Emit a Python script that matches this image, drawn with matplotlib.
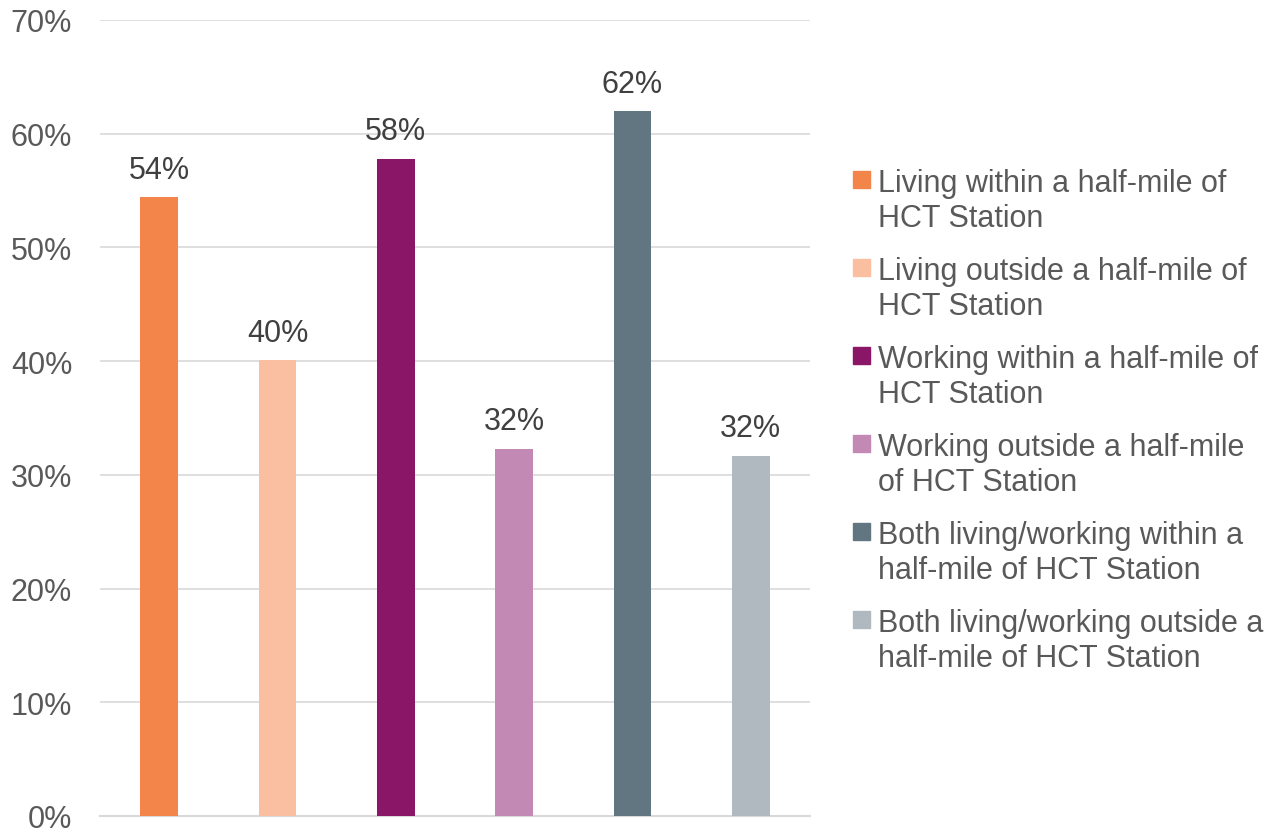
import matplotlib.pyplot as plt
from matplotlib.patches import Rectangle

# data
categories = ['Living within a half-mile of\nHCT Station',
              'Living outside a half-mile of\nHCT Station',
              'Working within a half-mile of\nHCT Station',
              'Working outside a half-mile\nof HCT Station',
              'Both living/working within a\nhalf-mile of HCT Station',
              'Both living/working outside a\nhalf-mile of HCT Station']
values = [54.4, 40.1, 57.8, 32.3, 62.0, 31.7]
colors = ['#F4854A', '#F9BFA0', '#8A1667', '#C189B4', '#627682', '#B1B9C0']
yticks = [0, 10, 20, 30, 40, 50, 60, 70]

plt.rcParams['font.family'] = ['Liberation Sans', 'DejaVu Sans']

fig = plt.figure(figsize=(12.74, 8.29), dpi=100)
ax = fig.add_axes([100/1274, 12/829, 710/1274, 796/829])

x = list(range(len(values)))
ax.bar(x, values, width=0.32, color=colors, zorder=3)

for xi, v in zip(x, values):
    ax.annotate(f'{v:.0f}%', (xi, v), xytext=(0, 14), textcoords='offset points',
                ha='center', va='baseline', fontsize=22, color='#404040')

ax.set_xlim(-0.5, len(values) - 0.5)
ax.set_ylim(0, 70)
ax.set_yticks(yticks)
ax.set_yticklabels([f'{t}%' for t in yticks])
ax.set_xticks([])
ax.tick_params(axis='y', length=0, pad=20, labelsize=22, labelcolor='#595959')
ax.grid(axis='y', color='#D9D9D9', lw=1.2, zorder=0)
for s in ['top', 'right', 'left']:
    ax.spines[s].set_visible(False)
ax.spines['bottom'].set_color('#D9D9D9')
ax.spines['bottom'].set_linewidth(1.5)

# legend drawn by hand so the swatch sits on the first line
for i, (lab, c) in enumerate(zip(categories, colors)):
    top = 172 + 88 * i
    fig.add_artist(Rectangle((853/1274, 1 - (top + 17)/829), 17/1274, 17/829,
                             transform=fig.transFigure, color=c))
    for j, line in enumerate(lab.split('\n')):
        fig.text(878/1274, 1 - (top + 20 + 35 * j)/829, line, fontsize=22,
                 color='#595959', va='baseline', ha='left')

fig.savefig('out.png', dpi=100)
